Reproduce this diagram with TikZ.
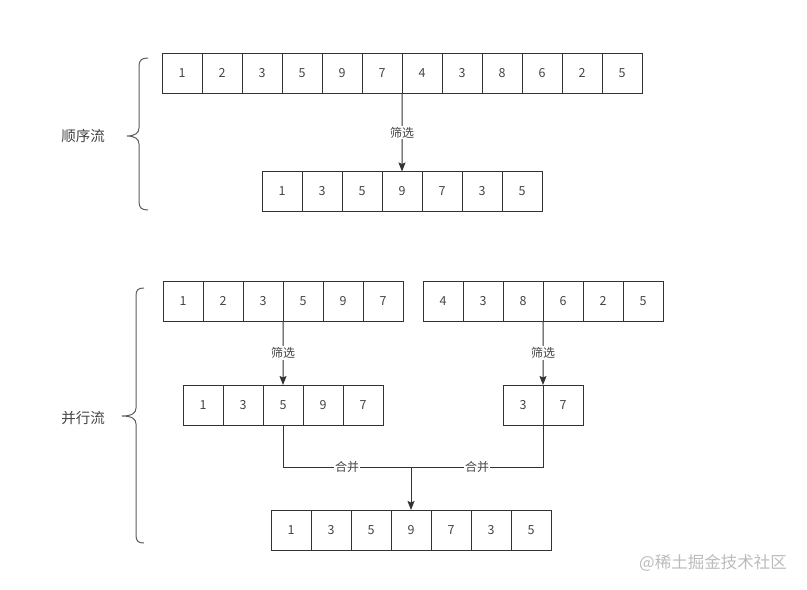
\documentclass[tikz,border=0pt]{standalone}
\usepackage{fontspec}
\newfontfamily\cjk{Noto Sans CJK SC}
\usetikzlibrary{arrows.meta}
\definecolor{ln}{HTML}{333333}
\definecolor{tx}{HTML}{444444}
\definecolor{wm}{HTML}{BBBBBB}
\tikzset{
  cell/.style={draw=ln, line width=1bp, minimum width=40bp, minimum height=40bp, inner sep=0pt, outer sep=0pt, text height=9bp, text depth=0bp, font=\cjk\fontsize{12.5bp}{14bp}\selectfont, text=tx},
  conn/.style={draw=ln, line width=1bp},
  arr/.style={conn, -{Stealth[length=9bp,width=7bp,inset=1.5bp]}},
  elabel/.style={fill=white, inner sep=1bp, font=\cjk\fontsize{12bp}{14bp}\selectfont, text=tx},
  side/.style={font=\cjk\fontsize{14.5bp}{16bp}\selectfont, text=tx},
  brace/.style={draw=ln!80, line width=1bp}
}
\begin{document}
\begin{tikzpicture}[x=1bp,y=-1bp]
\useasboundingbox (0,0) rectangle (807,590);
% top row
\foreach \v [count=\i] in {1,2,3,5,9,7,4,3,8,6,2,5}
  \node[cell] (t\i) at ({162+40*\i-20},73.5) {\v};
% filtered sequential
\foreach \v [count=\i] in {1,3,5,9,7,3,5}
  \node[cell] (s\i) at ({262+40*\i-20},191.5) {\v};
\draw[arr] (t7.south west) -- node[elabel]{筛选} (s4.north);
% parallel rows
\foreach \v [count=\i] in {1,2,3,5,9,7}
  \node[cell] (pa\i) at ({163+40*\i-20},301) {\v};
\foreach \v [count=\i] in {4,3,8,6,2,5}
  \node[cell] (pb\i) at ({423+40*\i-20},301) {\v};
\foreach \v [count=\i] in {1,3,5,9,7}
  \node[cell] (fa\i) at ({183+40*\i-20},405) {\v};
\foreach \v [count=\i] in {3,7}
  \node[cell] (fb\i) at ({503+40*\i-20},405) {\v};
\draw[arr] (pa4.south west) -- node[elabel, pos=0.5]{筛选} (fa3.north);
\draw[arr] (pb4.south west) -- node[elabel, pos=0.5]{筛选} (fb1.north east);
% merged
\foreach \v [count=\i] in {1,3,5,9,7,3,5}
  \node[cell] (m\i) at ({271+40*\i-20},530) {\v};
\coordinate (mj) at (m4.north |- 0,467);
\draw[conn] (fa3.south) |- node[elabel, pos=0.75]{合并} (mj);
\draw[conn] (fb1.south east) |- node[elabel, pos=0.75]{合并} (mj);
\draw[arr] (mj) -- (m4.north);
% braces
\draw[brace] (148,58) .. controls (142,58) and (139,60) .. (139,66) -- (139,128)
  .. controls (139,133) and (135,136) .. (127,136)
  .. controls (135,136) and (139,139) .. (139,144) -- (139,202)
  .. controls (139,208) and (142,210) .. (148,210);
\draw[brace] (144,288) .. controls (138,288) and (136,290) .. (136,296) -- (136,408)
  .. controls (136,413) and (132,416) .. (122,416)
  .. controls (132,416) and (136,419) .. (136,424) -- (136,535)
  .. controls (136,541) and (138,543) .. (144,543);
\node[side] (l1) at (83,136) {顺序流};
\node[side] (l2) at (83,418) {并行流};
\node[font=\cjk\fontsize{16.5bp}{18bp}\selectfont, text=wm] (w) at (713,563) {@稀土掘金技术社区};
\end{tikzpicture}
\end{document}
